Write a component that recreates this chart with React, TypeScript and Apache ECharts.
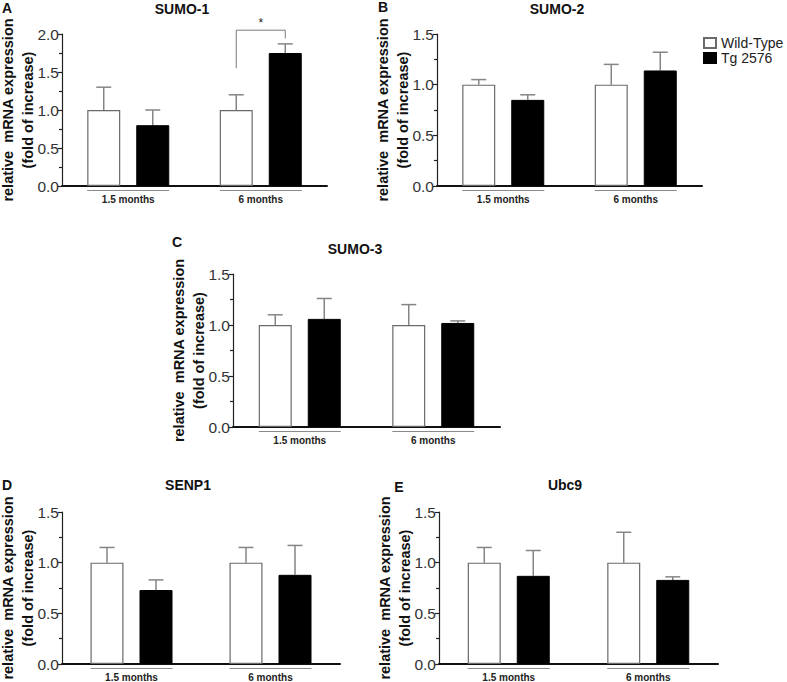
import React, { useEffect, useRef } from "react";
import * as echarts from "echarts";

// ---------- data ----------
const categories = ["1.5 months", "6 months"];
const seriesNames = ["Wild-Type", "Tg 2576"];

const sumo1WT = [1.0, 1.0];
const sumo1WTErr = [0.3, 0.2];
const sumo1Tg = [0.8, 1.75];
const sumo1TgErr = [0.2, 0.12];

const sumo2WT = [1.0, 1.0];
const sumo2WTErr = [0.05, 0.2];
const sumo2Tg = [0.85, 1.14];
const sumo2TgErr = [0.05, 0.18];

const sumo3WT = [1.0, 1.0];
const sumo3WTErr = [0.1, 0.2];
const sumo3Tg = [1.06, 1.02];
const sumo3TgErr = [0.2, 0.02];

const senp1WT = [1.0, 1.0];
const senp1WTErr = [0.15, 0.15];
const senp1Tg = [0.73, 0.88];
const senp1TgErr = [0.1, 0.29];

const ubc9WT = [1.0, 1.0];
const ubc9WTErr = [0.15, 0.3];
const ubc9Tg = [0.87, 0.83];
const ubc9TgErr = [0.25, 0.03];

const yMaxA = 2.0;
const yMaxOther = 1.5;
const yInterval = 0.5;

// significance bracket in SUMO-1, 6 months: left leg bottom, top, right leg bottom
const sigCategory = 1;
const sigLevels = [1.55, 2.05, 1.94];
const sigMark = "*";

const panelTitles = ["SUMO-1", "SUMO-2", "SUMO-3", "SENP1", "Ubc9"];
const panelLetters = ["A", "B", "C", "D", "E"];
const yAxisName = "relative  mRNA expression\n(fold of increase)";

// ---------- layout ----------
const FONT = "'Liberation Sans', Arial, Helvetica, sans-serif";
const grids = [
  { left: 62, top: 34, width: 265, height: 152 },
  { left: 437, top: 34, width: 265, height: 152 },
  { left: 233, top: 274, width: 267, height: 153 },
  { left: 62, top: 512, width: 278, height: 152 },
  { left: 439, top: 512, width: 279, height: 152 },
];
const titlePos = [
  [182, 9],
  [557, 9],
  [355, 249],
  [188, 485],
  [565, 485],
];
const letterPos = [
  [7, 8],
  [383, 7],
  [177, 242],
  [7, 485],
  [399, 487],
];
const BAR_W = 33;
const BAR_GAP = 16;
const OFFSET = (BAR_W + BAR_GAP) / 2;

const panels = [
  { wt: sumo1WT, wtErr: sumo1WTErr, tg: sumo1Tg, tgErr: sumo1TgErr, max: yMaxA },
  { wt: sumo2WT, wtErr: sumo2WTErr, tg: sumo2Tg, tgErr: sumo2TgErr, max: yMaxOther },
  { wt: sumo3WT, wtErr: sumo3WTErr, tg: sumo3Tg, tgErr: sumo3TgErr, max: yMaxOther },
  { wt: senp1WT, wtErr: senp1WTErr, tg: senp1Tg, tgErr: senp1TgErr, max: yMaxOther },
  { wt: ubc9WT, wtErr: ubc9WTErr, tg: ubc9Tg, tgErr: ubc9TgErr, max: yMaxOther },
];

function errorSeries(i: number, vals: number[], errs: number[], sign: number) {
  return {
    type: "custom",
    xAxisIndex: i,
    yAxisIndex: i,
    silent: true,
    clip: false,
    z: 1,
    data: vals.map((v, k) => [k, v, errs[k]]),
    renderItem: (params: any, api: any) => {
      const c = api.value(0);
      const v = api.value(1);
      const e = api.value(2);
      const p0 = api.coord([c, v]);
      const p1 = api.coord([c, v + e]);
      const x = p0[0] + sign * OFFSET;
      const style = { stroke: "#858585", lineWidth: 1.5 };
      return {
        type: "group",
        children: [
          { type: "line", shape: { x1: x, y1: p0[1], x2: x, y2: p1[1] }, style },
          { type: "line", shape: { x1: x - 7.5, y1: p1[1], x2: x + 7.5, y2: p1[1] }, style },
        ],
      };
    },
  };
}

function underlineSeries(i: number) {
  return {
    type: "custom",
    xAxisIndex: i,
    yAxisIndex: i,
    silent: true,
    clip: false,
    data: categories.map((_, k) => [k, 0]),
    renderItem: (params: any, api: any) => {
      const p = api.coord([api.value(0), 0]);
      return {
        type: "line",
        shape: { x1: p[0] - 41, y1: p[1] + 4.5, x2: p[0] + 41, y2: p[1] + 4.5 },
        style: { stroke: "#8a8a8a", lineWidth: 1 },
      };
    },
  };
}

export default function App() {
  const ref = useRef<HTMLDivElement>(null);

  useEffect(() => {
    if (!ref.current) return;
    const chart = echarts.init(ref.current, undefined, { renderer: "svg" });

    const xAxes = grids.map((_, i) => ({
      type: "category",
      gridIndex: i,
      data: categories,
      boundaryGap: true,
      axisLine: { show: true, lineStyle: { color: "#111", width: 2 } },
      axisTick: { show: false },
      axisLabel: {
        fontFamily: FONT,
        fontWeight: "bold",
        fontSize: 10,
        color: "#222",
        margin: 8,
      },
      splitLine: { show: false },
    }));

    const yAxes = panels.map((p, i) => ({
      type: "value",
      gridIndex: i,
      min: 0,
      max: p.max,
      interval: yInterval,
      name: yAxisName,
      nameLocation: "middle",
      nameRotate: 90,
      nameGap: 24,
      nameMoveOverlap: false,
      nameTextStyle: {
        fontFamily: FONT,
        fontWeight: "bold",
        fontSize: 14.5,
        color: "#111",
        lineHeight: 20,
      },
      axisLine: { show: true, lineStyle: { color: "#222", width: 1.2 } },
      axisTick: { show: true, inside: false, length: 4, lineStyle: { color: "#222", width: 1.2 } },
      minorTick: { show: true, splitNumber: 2, length: 3, lineStyle: { color: "#222", width: 1.2 } },
      splitLine: { show: false },
      minorSplitLine: { show: false },
      axisLabel: {
        fontFamily: FONT,
        fontSize: 15.5,
        color: "#333",
        margin: 3,
        formatter: (v: number) => v.toFixed(1),
      },
    }));

    const series: any[] = [];
    panels.forEach((p, i) => {
      series.push({
        type: "bar",
        name: seriesNames[0],
        xAxisIndex: i,
        yAxisIndex: i,
        data: p.wt,
        barWidth: BAR_W,
        barGap: `${((BAR_GAP / BAR_W) * 100).toFixed(1)}%`,
        itemStyle: { color: "#ffffff", borderColor: "#6a6a6a", borderWidth: 1.2 },
        z: 2,
      });
      series.push({
        type: "bar",
        name: seriesNames[1],
        xAxisIndex: i,
        yAxisIndex: i,
        data: p.tg,
        barWidth: BAR_W,
        barGap: `${((BAR_GAP / BAR_W) * 100).toFixed(1)}%`,
        itemStyle: { color: "#000000", borderColor: "#000000", borderWidth: 1 },
        z: 2,
      });
      series.push(errorSeries(i, p.wt, p.wtErr, -1));
      series.push(errorSeries(i, p.tg, p.tgErr, 1));
      series.push(underlineSeries(i));
    });

    // significance bracket (panel A)
    series.push({
      type: "custom",
      xAxisIndex: 0,
      yAxisIndex: 0,
      silent: true,
      clip: false,
      data: [[sigCategory, sigLevels[0], sigLevels[1], sigLevels[2]]],
      renderItem: (params: any, api: any) => {
        const c = api.value(0);
        const pl = api.coord([c, api.value(1)]);
        const pt = api.coord([c, api.value(2)]);
        const pr = api.coord([c, api.value(3)]);
        const lx = pl[0] - OFFSET;
        const rx = pl[0] + OFFSET;
        return {
          type: "group",
          children: [
            {
              type: "polyline",
              shape: { points: [[lx, pl[1]], [lx, pt[1]], [rx, pt[1]], [rx, pr[1]]] },
              style: { stroke: "#7a7a7a", lineWidth: 1, fill: "none" },
            },
            {
              type: "text",
              x: (lx + rx) / 2,
              y: pt[1] - 1,
              style: {
                text: sigMark,
                fill: "#222",
                fontSize: 12,
                fontFamily: FONT,
                align: "center",
                verticalAlign: "bottom",
              },
            },
          ],
        };
      },
    });

    const graphic: any[] = [];
    panelTitles.forEach((t, i) => {
      graphic.push({
        type: "text",
        x: titlePos[i][0],
        y: titlePos[i][1],
        style: {
          text: t,
          fill: "#111",
          fontSize: 14,
          fontWeight: "bold",
          fontFamily: FONT,
          align: "center",
          verticalAlign: "middle",
        },
      });
      graphic.push({
        type: "text",
        x: letterPos[i][0],
        y: letterPos[i][1],
        style: {
          text: panelLetters[i],
          fill: "#111",
          fontSize: 14,
          fontWeight: "bold",
          fontFamily: FONT,
          align: "center",
          verticalAlign: "middle",
        },
      });
    });

    chart.setOption({
      animation: false,
      backgroundColor: "#ffffff",
      grid: grids.map((g) => ({ ...g, containLabel: false, outerBoundsMode: "none" })),
      xAxis: xAxes,
      yAxis: yAxes,
      legend: {
        data: seriesNames,
        orient: "vertical",
        left: 703,
        top: 36,
        padding: 0,
        itemWidth: 12,
        itemHeight: 10,
        itemGap: 1,
        icon: "rect",
        selectedMode: false,
        textStyle: { fontFamily: FONT, fontSize: 14, color: "#222" },
      },
      series,
      graphic,
    });

    return () => chart.dispose();
  }, []);

  return (
    <div
      ref={ref}
      style={{ position: "fixed", left: 0, top: 0, width: 787, height: 682, background: "#fff" }}
    />
  );
}
